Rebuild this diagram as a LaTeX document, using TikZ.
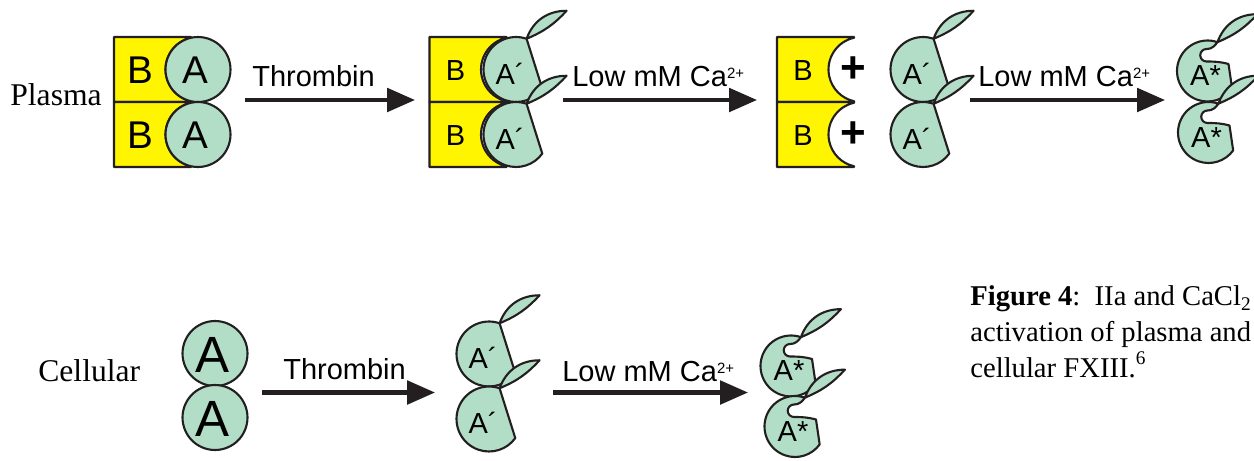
\documentclass[tikz,border=0pt]{standalone}
\usepackage{fontspec}
\setmainfont{Liberation Serif}
\newfontfamily\arial{Liberation Sans}
\usetikzlibrary{arrows.meta}

\definecolor{ink}{RGB}{35,31,32}
\definecolor{fxgreen}{RGB}{178,222,199}
\definecolor{fxyellow}{RGB}{255,245,0}

\newcommand\arad{0.65cm}
\newcommand\srad{0.61cm}
\newcommand\bigletter{\fontsize{22}{24}\selectfont}
\newcommand\hugeletter{\fontsize{29}{31}\selectfont}
\newcommand\catwo{Ca\raisebox{4pt}{\fontsize{8.5}{9}\selectfont 2+}}

\begin{document}
\begin{tikzpicture}[
    x=0.02cm, y=0.02cm,
    bpart/.style={draw=ink, fill=fxyellow, line width=1.2pt, line join=round},
    apart/.style={draw=ink, fill=fxgreen, line width=1.2pt, line join=round},
    letter/.style={font=\arial\fontsize{16.5}{18}\selectfont, inner sep=0pt},
    react/.style={draw=ink, line width=2.3pt, -{Triangle[length=0.56cm, width=0.47cm]}},
    arrowtext/.style={font=\arial\fontsize{16.5}{18}\selectfont, inner sep=0pt, anchor=base west},
    rowtext/.style={font=\fontsize{18}{20}\selectfont, inner sep=0pt, anchor=base west},
    captext/.style={font=\fontsize{16.3}{20}\selectfont, inner sep=0pt, anchor=base west},
    % B subunit: box with a round socket on its right
    pics/bunit/.style={code={
      \draw[bpart] (-84,32.5) -- (-7,32.5) -- (-7,31.74)
        arc[start angle=102.44, end angle=257.56, radius=\arad]
        -- (-7,-32.5) -- (-84,-32.5) -- cycle;
      \node[letter] (-l) at (-58,-1) {#1};
    }},
    % intact A subunit
    pics/aunit/.style={code={
      \draw[apart] (0,0) circle[radius=\arad];
      \node[letter] (-l) at (-3,-1) {#1};
    }},
    % A' : cut A subunit with its peptide still hanging on
    pics/aprime/.style={code={
      \draw[apart] (71:\arad) arc[start angle=71, end angle=324, radius=\arad] -- cycle;
      \draw[apart] (71:\arad) to[bend left=35] ++(40,28) to[bend left=12] (71:\arad);
      \node[letter] (-l) at (-6,-4) {A´};
    }},
    % A* : active site opened
    pics/astar/.style={code={
      \draw[apart] (71:\srad) arc[start angle=71, end angle=324, radius=\srad]
        -- (21,7) to[out=165, in=0] (-1,9.5)
        arc[start angle=270, end angle=90, radius=0.125cm]
        to[out=0, in=235] (71:\srad) -- cycle;
      \draw[apart] (71:\srad) to[bend left=35] ++(40,28) to[bend left=12] (71:\srad);
      \node[letter] (-l) at (-2,-5) {A*};
    }}]

  \useasboundingbox (0,0) rectangle (1254,-460);
  \clip (0,0) rectangle (1254,-460);

  % plasma FXIII
  \node[rowtext] (plasma) at (10,-105) {Plasma};

  \pic (b1) at (198,-69.5)  {bunit={\bigletter B}};
  \pic (b2) at (198,-134.5) {bunit={\bigletter B}};
  \pic (a1) at (198,-69.5)  {aunit={\bigletter A}};
  \pic (a2) at (198,-134.5) {aunit={\bigletter A}};

  \coordinate (p1s) at (245,-100);
  \coordinate (p1e) at (415,-100);
  \draw[react] (p1s) -- (p1e);
  \node[arrowtext] (thr1) at (252,-86) {Thrombin};

  \pic (b3) at (513.5,-69.5)  {bunit=B};
  \pic (b4) at (513.5,-134.5) {bunit=B};
  \pic (ap1) at (516,-69.5)  {aprime};
  \pic (ap2) at (516,-134.5) {aprime};

  \coordinate (p2s) at (563,-100);
  \coordinate (p2e) at (757,-100);
  \draw[react] (p2s) -- (p2e);
  \node[arrowtext] (low1) at (572,-86) {Low mM \catwo};

  \pic (b5) at (861,-69.5)  {bunit=B};
  \pic (b6) at (861,-134.5) {bunit=B};
  \node[letter, font=\arial\bfseries\fontsize{25}{26}\selectfont] (plus1) at (853.5,-70) {+};
  \node[letter, font=\arial\bfseries\fontsize{25}{26}\selectfont] (plus2) at (853.5,-135) {+};
  \pic (ap3) at (923,-69.5)  {aprime};
  \pic (ap4) at (923,-134.5) {aprime};

  \coordinate (p3s) at (970,-100);
  \coordinate (p3e) at (1165,-100);
  \draw[react] (p3s) -- (p3e);
  \node[arrowtext] (low2) at (978,-86) {Low mM \catwo};

  \pic (as1) at (1207.5,-71)   {astar};
  \pic (as2) at (1208.5,-132.5) {astar};

  % cellular FXIII
  \node[rowtext] (cellular) at (38,-381) {Cellular};

  \pic (c1) at (215,-353.5) {aunit={\hugeletter A}};
  \pic (c2) at (215,-417.5) {aunit={\hugeletter A}};

  \coordinate (c1s) at (262,-392.5);
  \coordinate (c1e) at (435,-392.5);
  \draw[react] (c1s) -- (c1e);
  \node[arrowtext] (thr2) at (283,-379) {Thrombin};

  \pic (cp1) at (489,-354) {aprime};
  \pic (cp2) at (489,-419) {aprime};

  \coordinate (c2s) at (553,-392.5);
  \coordinate (c2e) at (748,-392.5);
  \draw[react] (c2s) -- (c2e);
  \node[arrowtext] (low3) at (562,-381) {Low mM \catwo};

  \pic (cs1) at (791,-366)   {astar};
  \pic (cs2) at (795,-426.5) {astar};

  % caption
  \node[captext] (cap1) at (970,-305) {\textbf{Figure 4}:\ \ IIa and CaCl\raisebox{-3pt}{\fontsize{11}{11}\selectfont 2}};
  \node[captext] (cap2) at (970,-341) {activation of plasma and};
  \node[captext] (cap3) at (970,-377) {cellular FXIII.\raisebox{7pt}{\fontsize{11}{11}\selectfont 6}};
\end{tikzpicture}
\end{document}
